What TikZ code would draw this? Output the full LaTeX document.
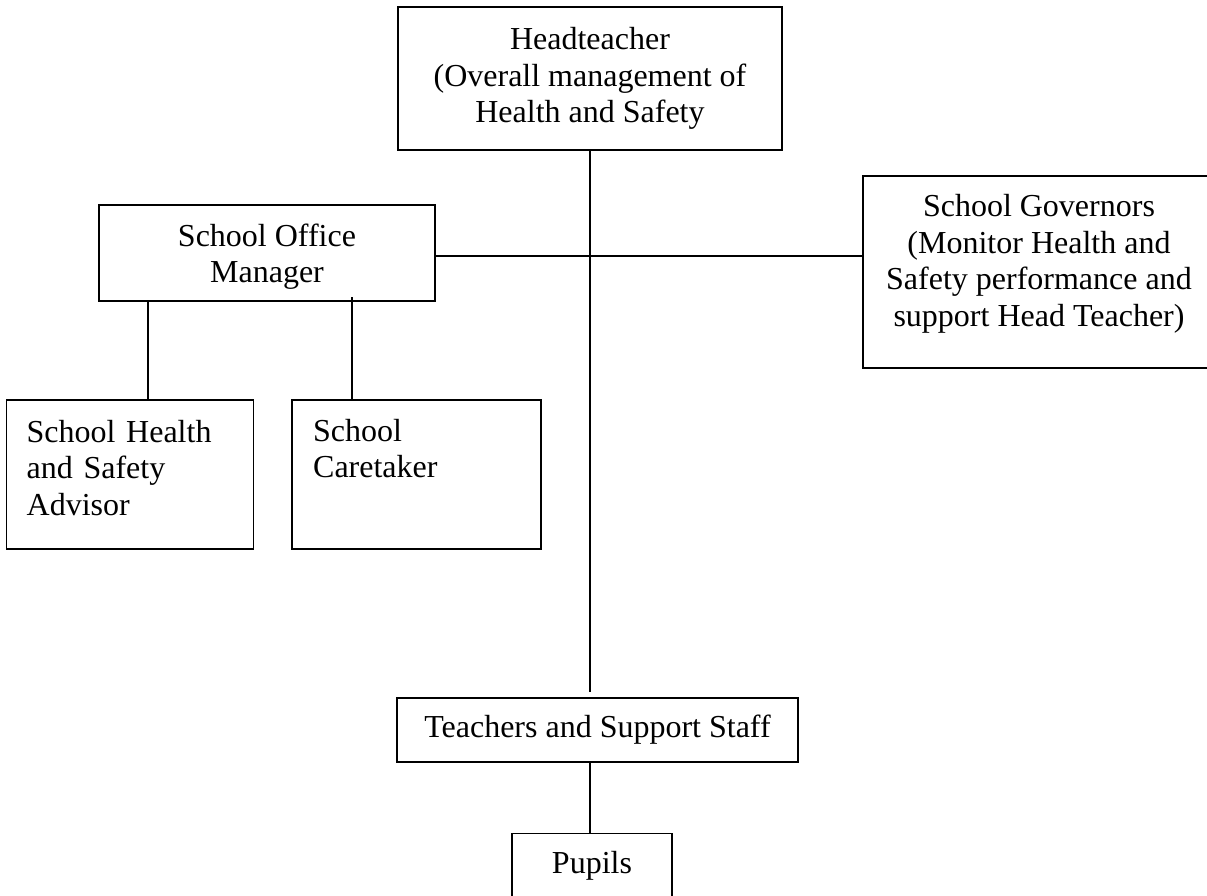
\documentclass[tikz,border=0pt]{standalone}
\usepackage{fontspec}
\setmainfont{Liberation Serif}
\usepackage{tikz}

\begin{document}
\begin{tikzpicture}[x=0.75pt,y=-0.75pt,
  box/.style={draw,line width=1.1pt,inner sep=0pt,font=\fontsize{24}{27.4}\selectfont},
  line/.style={line width=1.1pt}]
\useasboundingbox (0,0) rectangle (1207,896);
\node [box,minimum width=288pt,minimum height=107.25pt,align=center] (head) at (590,78.5)
  {Headteacher\\(Overall management of\\Health and Safety};
\node [box,minimum width=252pt,minimum height=72pt,align=center] (office) at (267,253)
  {\mbox{}\\[-5pt]School Office\\Manager};
\node [box,minimum width=264pt,minimum height=144pt,align=center] (gov) at (1039,272)
  {School Governors\\(Monitor Health and\\Safety performance and\\support Head Teacher)\\[-10pt]\mbox{}};
\node [box,minimum width=185.5pt,minimum height=111.75pt,text width=155pt,align=left] (advisor) at (130,474.5)
  {School Health\\and Safety\\Advisor\\[-17pt]\mbox{}};
\node [box,minimum width=186.75pt,minimum height=111.75pt,text width=155pt,align=left] (caretaker) at (416.5,474.5)
  {School\\Caretaker\\[11.6pt]\mbox{}};
\node [box,minimum width=300.75pt,minimum height=48pt,align=center] (teach) at (597.5,730)
  {Teachers and Support Staff};
\node [box,minimum width=120pt,minimum height=48pt,align=center] (pupils) at (592,865.5)
  {Pupils};
\coordinate (hub) at (590,256);
% lines
\draw [line,shorten >=3.75pt] (head.south) -- (head.south |- teach.north);
\draw [line] (office.east |- hub) -- (gov.west |- hub);
\draw [line] ([xshift=13.5pt]advisor.north) -- ([xshift=13.5pt]advisor.north |- office.south);
\draw [line,shorten >=-3.5pt] ([xshift=-48.375pt]caretaker.north) -- ([xshift=-48.375pt]caretaker.north |- office.south);
\draw [line] (teach.south -| head.south) -- (pupils.north -| head.south);
\end{tikzpicture}
\end{document}
